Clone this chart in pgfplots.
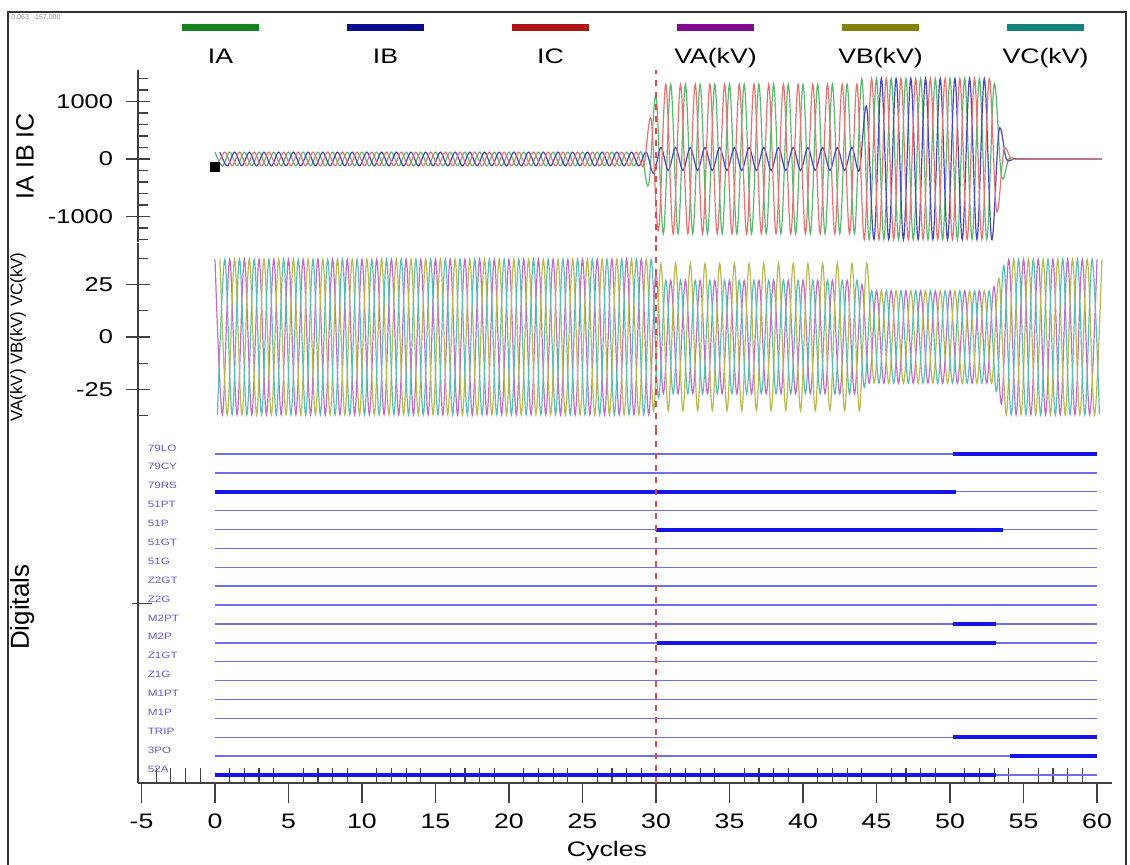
\documentclass[border=0pt]{standalone}
\usepackage{pgfplots}
\pgfplotsset{compat=1.18}
\usepackage{pgfplotstable}
\usepackage{fontspec}
\setmainfont{Liberation Sans}
\newfontfamily\wfont[FakeStretch=1.27]{Liberation Sans}

\definecolor{iaL}{RGB}{20,130,30}
\definecolor{ibL}{RGB}{10,10,140}
\definecolor{icL}{RGB}{170,20,20}
\definecolor{vaL}{RGB}{130,10,140}
\definecolor{vbL}{RGB}{130,130,10}
\definecolor{vcL}{RGB}{20,130,125}
\definecolor{iaW}{RGB}{90,185,110}
\definecolor{ibW}{RGB}{70,70,190}
\definecolor{icW}{RGB}{230,115,115}
\definecolor{vaW}{RGB}{190,110,200}
\definecolor{vbW}{RGB}{185,185,80}
\definecolor{vcW}{RGB}{90,190,180}
\definecolor{digL}{RGB}{110,110,235}
\definecolor{digH}{RGB}{20,20,235}
\definecolor{digT}{RGB}{90,90,220}
\definecolor{cursor}{RGB}{210,80,80}

\tikzset{dlab/.style={anchor=west, inner sep=0pt, text=digT, font=\wfont\fontsize{4.6}{5.5}\selectfont}}

% t = time of phase-A peak (cycles), tB/tC = times of phase B/C peaks
\pgfplotstableread{
t tB tC IA IB IC VA VB VC
0 0.333 0.167 120 120 -120 37 37 -37
0.5 0.833 0.667 -120 -120 120 -37 -37 37
1 1.333 1.167 120 120 -120 37 37 -37
1.5 1.833 1.667 -120 -120 120 -37 -37 37
2 2.333 2.167 120 120 -120 37 37 -37
2.5 2.833 2.667 -120 -120 120 -37 -37 37
3 3.333 3.167 120 120 -120 37 37 -37
3.5 3.833 3.667 -120 -120 120 -37 -37 37
4 4.333 4.167 120 120 -120 37 37 -37
4.5 4.833 4.667 -120 -120 120 -37 -37 37
5 5.333 5.167 120 120 -120 37 37 -37
5.5 5.833 5.667 -120 -120 120 -37 -37 37
6 6.333 6.167 120 120 -120 37 37 -37
6.5 6.833 6.667 -120 -120 120 -37 -37 37
7 7.333 7.167 120 120 -120 37 37 -37
7.5 7.833 7.667 -120 -120 120 -37 -37 37
8 8.333 8.167 120 120 -120 37 37 -37
8.5 8.833 8.667 -120 -120 120 -37 -37 37
9 9.333 9.167 120 120 -120 37 37 -37
9.5 9.833 9.667 -120 -120 120 -37 -37 37
10 10.333 10.167 120 120 -120 37 37 -37
10.5 10.833 10.667 -120 -120 120 -37 -37 37
11 11.333 11.167 120 120 -120 37 37 -37
11.5 11.833 11.667 -120 -120 120 -37 -37 37
12 12.333 12.167 120 120 -120 37 37 -37
12.5 12.833 12.667 -120 -120 120 -37 -37 37
13 13.333 13.167 120 120 -120 37 37 -37
13.5 13.833 13.667 -120 -120 120 -37 -37 37
14 14.333 14.167 120 120 -120 37 37 -37
14.5 14.833 14.667 -120 -120 120 -37 -37 37
15 15.333 15.167 120 120 -120 37 37 -37
15.5 15.833 15.667 -120 -120 120 -37 -37 37
16 16.333 16.167 120 120 -120 37 37 -37
16.5 16.833 16.667 -120 -120 120 -37 -37 37
17 17.333 17.167 120 120 -120 37 37 -37
17.5 17.833 17.667 -120 -120 120 -37 -37 37
18 18.333 18.167 120 120 -120 37 37 -37
18.5 18.833 18.667 -120 -120 120 -37 -37 37
19 19.333 19.167 120 120 -120 37 37 -37
19.5 19.833 19.667 -120 -120 120 -37 -37 37
20 20.333 20.167 120 120 -120 37 37 -37
20.5 20.833 20.667 -120 -120 120 -37 -37 37
21 21.333 21.167 120 120 -120 37 37 -37
21.5 21.833 21.667 -120 -120 120 -37 -37 37
22 22.333 22.167 120 120 -120 37 37 -37
22.5 22.833 22.667 -120 -120 120 -37 -37 37
23 23.333 23.167 120 120 -120 37 37 -37
23.5 23.833 23.667 -120 -120 120 -37 -37 37
24 24.333 24.167 120 120 -120 37 37 -37
24.5 24.833 24.667 -120 -120 120 -37 -37 37
25 25.333 25.167 120 120 -120 37 37 -37
25.5 25.833 25.667 -120 -120 120 -37 -37 37
26 26.333 26.167 120 120 -120 37 37 -37
26.5 26.833 26.667 -120 -120 120 -37 -37 37
27 27.333 27.167 120 120 -120 37 37 -37
27.5 27.833 27.667 -120 -120 120 -37 -37 37
28 28.333 28.167 120 120 -120 37 37 -37
28.5 28.833 28.667 -120 -120 120 -37 -37 37
29 29.333 29.167 120 120 -120 37 37 -37
29.5 29.833 29.667 -450 -250 700 -37 -35 37
30 30.333 30.167 1100 200 -1250 30 35 -29
30.5 30.833 30.667 -1300 -200 1300 -27 -35 27
31 31.333 31.167 1300 200 -1300 27 35 -27
31.5 31.833 31.667 -1300 -200 1300 -27 -35 27
32 32.333 32.167 1300 200 -1300 27 35 -27
32.5 32.833 32.667 -1300 -200 1300 -27 -35 27
33 33.333 33.167 1300 200 -1300 27 35 -27
33.5 33.833 33.667 -1300 -200 1300 -27 -35 27
34 34.333 34.167 1300 200 -1300 27 35 -27
34.5 34.833 34.667 -1300 -200 1300 -27 -35 27
35 35.333 35.167 1300 200 -1300 27 35 -27
35.5 35.833 35.667 -1300 -200 1300 -27 -35 27
36 36.333 36.167 1300 200 -1300 27 35 -27
36.5 36.833 36.667 -1300 -200 1300 -27 -35 27
37 37.333 37.167 1300 200 -1300 27 35 -27
37.5 37.833 37.667 -1300 -200 1300 -27 -35 27
38 38.333 38.167 1300 200 -1300 27 35 -27
38.5 38.833 38.667 -1300 -200 1300 -27 -35 27
39 39.333 39.167 1300 200 -1300 27 35 -27
39.5 39.833 39.667 -1300 -200 1300 -27 -35 27
40 40.333 40.167 1300 200 -1300 27 35 -27
40.5 40.833 40.667 -1300 -200 1300 -27 -35 27
41 41.333 41.167 1300 200 -1300 27 35 -27
41.5 41.833 41.667 -1300 -200 1300 -27 -35 27
42 42.333 42.167 1300 200 -1300 27 35 -27
42.5 42.833 42.667 -1300 -200 1300 -27 -35 27
43 43.333 43.167 1300 200 -1300 27 35 -27
43.5 43.833 43.667 -1300 -200 1300 -27 -35 27
44 44.333 44.167 1400 900 -1400 25 35 -24
44.5 44.833 44.667 -1400 -1400 1400 -22 -22 22
45 45.333 45.167 1400 1400 -1400 22 22 -22
45.5 45.833 45.667 -1400 -1400 1400 -22 -22 22
46 46.333 46.167 1400 1400 -1400 22 22 -22
46.5 46.833 46.667 -1400 -1400 1400 -22 -22 22
47 47.333 47.167 1400 1400 -1400 22 22 -22
47.5 47.833 47.667 -1400 -1400 1400 -22 -22 22
48 48.333 48.167 1400 1400 -1400 22 22 -22
48.5 48.833 48.667 -1400 -1400 1400 -22 -22 22
49 49.333 49.167 1400 1400 -1400 22 22 -22
49.5 49.833 49.667 -1400 -1400 1400 -22 -22 22
50 50.333 50.167 1400 1400 -1400 22 22 -22
50.5 50.833 50.667 -1400 -1400 1400 -22 -22 22
51 51.333 51.167 1400 1400 -1400 22 22 -22
51.5 51.833 51.667 -1400 -1400 1400 -22 -22 22
52 52.333 52.167 1400 1400 -1400 22 22 -22
52.5 52.833 52.667 -1400 -1400 1400 -22 -22 22
53 53.333 53.167 1300 500 -900 24 28 -26
53.5 53.833 53.667 -300 0 150 -32 -37 34
54 54.333 54.167 0 0 0 37 37 -37
54.5 54.833 54.667 0 0 0 -37 -37 37
55 55.333 55.167 0 0 0 37 37 -37
55.5 55.833 55.667 0 0 0 -37 -37 37
56 56.333 56.167 0 0 0 37 37 -37
56.5 56.833 56.667 0 0 0 -37 -37 37
57 57.333 57.167 0 0 0 37 37 -37
57.5 57.833 57.667 0 0 0 -37 -37 37
58 58.333 58.167 0 0 0 37 37 -37
58.5 58.833 58.667 0 0 0 -37 -37 37
59 59.333 59.167 0 0 0 37 37 -37
59.5 59.833 59.667 0 0 0 -37 -37 37
60 60.333 60.167 0 0 0 37 37 -37
}\wave

\pgfplotsset{
  panel/.style={
    scale only axis, width=487pt, xmin=-5.238, xmax=61.02,
    anchor=south west,
    axis line style={black!75, line width=0.7pt},
    tick style={black!75, line width=0.6pt},
    tick label style={font=\wfont\fontsize{10}{12}\selectfont},
    /pgf/number format/assume math mode=true,
    /pgf/number format/1000 sep={},
    scaled y ticks=false, scaled x ticks=false,
  },
  toppanel/.style={
    panel, axis x line=none, axis y line*=left, xtick=\empty,
    tick align=center, major tick length=12pt, minor tick length=5pt,
    every minor tick/.append style={xshift=2.5pt},
    yticklabel style={xshift=-3pt},
  },
  wv/.style={line width=0.6pt, smooth, tension=0.55},
}

\begin{document}
\begin{tikzpicture}
\useasboundingbox (0,0) rectangle (565pt,-432.5pt);
% outer frame
\draw[black!80, line width=0.9pt] (4pt,-440pt) -- (4pt,-6pt) -- (563pt,-6pt) -- (563pt,-440pt);
\node[anchor=north west, inner sep=0pt, text=black!45, font=\fontsize{3.5}{4}\selectfont] at (5.5pt,-7pt) {0.063, -157.000};

% ---------- currents ----------
\begin{axis}[toppanel, at={(69pt,-121.25pt)}, height=86.25pt,
  ymin=-1452, ymax=1548,
  ytick={-1000,0,1000}, minor ytick={-1400,-1200,...,1400},
  ylabel={IA IB IC},
  ylabel style={at={(axis description cs:-0.116,0.5)}, anchor=center, font=\fontsize{12.5}{14}\selectfont},
  legend columns=6,
  legend image code/.code={},
  legend style={at={(axis description cs:0,1.2638)}, anchor=north west, draw=none, fill=none,
    inner sep=0pt, outer sep=0pt, column sep=0pt,
    /tikz/every even column/.append style={column sep=0pt},
    /tikz/every odd column/.append style={column sep=0pt},
    nodes={inner sep=0pt, text width=82.5pt, align=center, text depth=0pt,
      font=\wfont\fontsize{10.5}{12.6}\selectfont}},
]
\addplot[wv, iaW] table[x=t, y=IA] {\wave};
\addlegendentry{\textcolor{iaL}{\rule{38.5pt}{3.5pt}}\\[3.2pt]IA}
\addplot[wv, ibW] table[x=tB, y=IB] {\wave};
\addlegendentry{\textcolor{ibL}{\rule{38.5pt}{3.5pt}}\\[3.2pt]IB}
\addplot[wv, icW] table[x=tC, y=IC] {\wave};
\addlegendentry{\textcolor{icL}{\rule{38.5pt}{3.5pt}}\\[3.2pt]IC}
\addlegendimage{}
\addlegendentry{\textcolor{vaL}{\rule{38.5pt}{3.5pt}}\\[3.2pt]VA(kV)}
\addlegendimage{}
\addlegendentry{\textcolor{vbL}{\rule{38.5pt}{3.5pt}}\\[3.2pt]VB(kV)}
\addlegendimage{}
\addlegendentry{\textcolor{vcL}{\rule{38.5pt}{3.5pt}}\\[3.2pt]VC(kV)}
\addplot[forget plot, cursor, dashed, line width=0.6pt] coordinates {(30,-1452) (30,1548)};
\addplot[forget plot, only marks, mark=square*, mark size=2.2pt, black] coordinates {(0,-140)};
\end{axis}

% ---------- voltages ----------
\begin{axis}[toppanel, at={(69pt,-215.75pt)}, height=94.5pt,
  ymin=-45, ymax=45,
  ytick={-25,0,25}, minor ytick={-37.5,-12.5,12.5,37.5},
  ylabel={VA(kV) VB(kV) VC(kV)},
  ylabel style={at={(axis description cs:-0.1232,0.5)}, anchor=center, font=\fontsize{8.4}{10}\selectfont},
]
\addplot[wv, vaW] table[x=t, y=VA] {\wave};
\addplot[wv, vbW] table[x=tB, y=VB] {\wave};
\addplot[wv, vcW] table[x=tC, y=VC] {\wave};
\addplot[cursor, dashed, line width=0.6pt] coordinates {(30,-45) (30,45)};
\end{axis}

% ---------- digitals ----------
\begin{axis}[panel, at={(69pt,-391.5pt)}, height=175.75pt,
  ymin=0.576, ymax=19.19,
  axis x line*=bottom, axis y line*=left,
  tick align=outside, major tick length=10pt, minor tick length=7.5pt,
  every minor tick/.append style={yshift=7.5pt},
  every major y tick/.append style={xshift=7pt},
  xtick={-5,0,...,60}, minor x tick num=4,
  xticklabel style={font=\wfont\fontsize{10.5}{12}\selectfont, yshift=-2pt},
  ytick={10.1}, yticklabels={},
  xlabel={Cycles},
  xlabel style={at={(axis description cs:0.4815,0)}, anchor=center, yshift=-34pt, font=\wfont\fontsize{10.5}{12}\selectfont},
  ylabel={Digitals},
  ylabel style={at={(axis description cs:-0.119,0.5)}, anchor=center, font=\fontsize{13}{15}\selectfont},
  unbounded coords=jump,
]
% idle (thin) traces
\addplot[digL, line width=0.7pt] coordinates {
 (0,1) (60,1) (0,nan) (0,2) (60,2) (0,nan) (0,3) (60,3) (0,nan)
 (0,4) (60,4) (0,nan) (0,5) (60,5) (0,nan) (0,6) (60,6) (0,nan)
 (0,7) (60,7) (0,nan) (0,8) (60,8) (0,nan) (0,9) (60,9) (0,nan)
 (0,10) (60,10) (0,nan) (0,11) (60,11) (0,nan) (0,12) (60,12) (0,nan)
 (0,13) (60,13) (0,nan) (0,14) (60,14) (0,nan) (0,15) (60,15) (0,nan)
 (0,16) (60,16) (0,nan) (0,17) (60,17) (0,nan) (0,18) (60,18)};
% asserted (thick) traces
\addplot[digH, line width=2pt] coordinates {
 (50.2,18) (60,18) (0,nan)
 (0,16) (50.4,16) (0,nan)
 (30,14) (53.6,14) (0,nan)
 (50.2,9) (53.1,9) (0,nan)
 (30.1,8) (53.1,8) (0,nan)
 (50.2,3) (60,3) (0,nan)
 (54.1,2) (60,2) (0,nan)
 (0,1) (53.1,1)};
\addplot[cursor, dashed, line width=0.6pt] coordinates {(30,0.576) (30,19.19)};
\node[dlab] at (axis cs:-4.6,18.32) {79LO};
\node[dlab] at (axis cs:-4.6,17.32) {79CY};
\node[dlab] at (axis cs:-4.6,16.32) {79RS};
\node[dlab] at (axis cs:-4.6,15.32) {51PT};
\node[dlab] at (axis cs:-4.6,14.32) {51P};
\node[dlab] at (axis cs:-4.6,13.32) {51GT};
\node[dlab] at (axis cs:-4.6,12.32) {51G};
\node[dlab] at (axis cs:-4.6,11.32) {Z2GT};
\node[dlab] at (axis cs:-4.6,10.32) {Z2G};
\node[dlab] at (axis cs:-4.6,9.32) {M2PT};
\node[dlab] at (axis cs:-4.6,8.32) {M2P};
\node[dlab] at (axis cs:-4.6,7.32) {Z1GT};
\node[dlab] at (axis cs:-4.6,6.32) {Z1G};
\node[dlab] at (axis cs:-4.6,5.32) {M1PT};
\node[dlab] at (axis cs:-4.6,4.32) {M1P};
\node[dlab] at (axis cs:-4.6,3.32) {TRIP};
\node[dlab] at (axis cs:-4.6,2.32) {3PO};
\node[dlab] at (axis cs:-4.6,1.32) {52A};
\end{axis}
\end{tikzpicture}
\end{document}
